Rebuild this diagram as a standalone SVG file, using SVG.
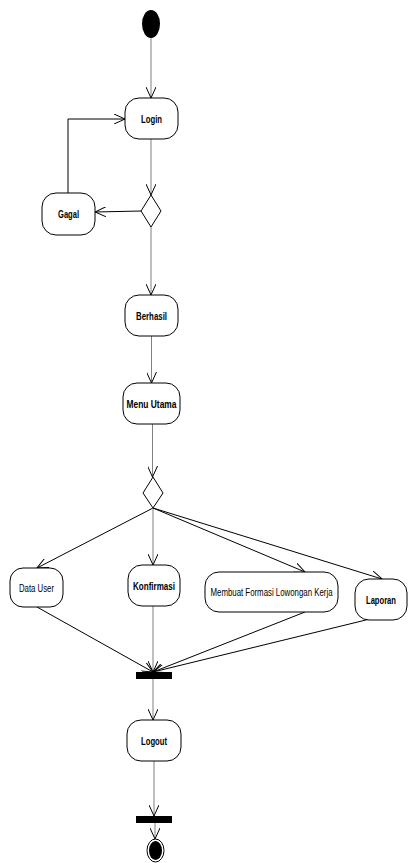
<svg xmlns="http://www.w3.org/2000/svg" width="408" height="863" viewBox="0 0 408 863">
<style>
.n{fill:#fff;stroke:#000;stroke-width:1}
.t{font-family:"Liberation Sans",Arial,sans-serif;font-size:11px;fill:#000;text-anchor:middle}
.b{font-weight:bold}
.g{stroke:#808080;stroke-width:1;fill:none}
.k{stroke:#000;stroke-width:1;fill:none}
</style>
<defs>
<marker id="ah" viewBox="0 0 12 10" refX="11" refY="5" markerWidth="12" markerHeight="10" markerUnits="userSpaceOnUse" orient="auto">
<path d="M0,0 L11,5 L0,10" fill="none" stroke="#000" stroke-width="1"/>
</marker>
</defs>
<g id="connectors">
<line class="g" x1="151" y1="38" x2="151" y2="98" marker-end="url(#ah)"/>
<line class="g" x1="151" y1="139" x2="151" y2="195" marker-end="url(#ah)"/>
<line class="k" x1="141" y1="211" x2="95" y2="212" marker-end="url(#ah)"/>
<polyline class="k" points="68,193 68,119 125,119" marker-end="url(#ah)"/>
<line class="g" x1="151" y1="227" x2="151" y2="295" marker-end="url(#ah)"/>
<line class="g" x1="151.5" y1="336" x2="151.5" y2="383" marker-end="url(#ah)"/>
<line class="g" x1="152.5" y1="424" x2="152.5" y2="477" marker-end="url(#ah)"/>
<line class="k" x1="153" y1="508" x2="37" y2="568" marker-end="url(#ah)"/>
<line class="g" x1="153" y1="508" x2="153" y2="565" marker-end="url(#ah)"/>
<line class="k" x1="153" y1="508" x2="305" y2="572" marker-end="url(#ah)"/>
<line class="k" x1="153" y1="508" x2="382" y2="579" marker-end="url(#ah)"/>
<line class="k" x1="37" y1="607" x2="153" y2="672" marker-end="url(#ah)"/>
<line class="g" x1="153" y1="606" x2="153" y2="672" marker-end="url(#ah)"/>
<line class="k" x1="305" y1="612" x2="153" y2="672" marker-end="url(#ah)"/>
<line class="k" x1="370" y1="619" x2="153" y2="672" marker-end="url(#ah)"/>
<line class="g" x1="153" y1="679" x2="153" y2="720" marker-end="url(#ah)"/>
<line class="g" x1="154" y1="761" x2="154" y2="816" marker-end="url(#ah)"/>
<line class="g" x1="155" y1="823" x2="155" y2="839" marker-end="url(#ah)"/>
</g>
<g id="start"><ellipse cx="151" cy="24" rx="9" ry="14" fill="#000"/></g>
<g id="login"><rect class="n" x="125" y="98" width="53" height="41" rx="14"/><text class="t b" x="151.5" y="122.5" textLength="21" lengthAdjust="spacingAndGlyphs">Login</text></g>
<g id="gagal"><rect class="n" x="42" y="193" width="53" height="42" rx="14"/><text class="t b" x="68.5" y="217.5" textLength="21" lengthAdjust="spacingAndGlyphs">Gagal</text></g>
<g id="decision1"><polygon class="n" points="151,195 161,211 151,227 141,211"/></g>
<g id="berhasil"><rect class="n" x="125" y="295" width="53" height="41" rx="14"/><text class="t b" x="151.5" y="319.5" textLength="31" lengthAdjust="spacingAndGlyphs">Berhasil</text></g>
<g id="menu"><rect class="n" x="123" y="383" width="57" height="41" rx="14"/><text class="t b" x="151.5" y="407.5" textLength="50" lengthAdjust="spacingAndGlyphs">Menu Utama</text></g>
<g id="decision2"><polygon class="n" points="153,477 163,493 153,508 143,493"/></g>
<g id="datauser"><rect class="n" x="10" y="568" width="53" height="39" rx="13"/><text class="t" x="36.5" y="591.5" textLength="35" lengthAdjust="spacingAndGlyphs">Data User</text></g>
<g id="konfirmasi"><rect class="n" x="128" y="565" width="52" height="41" rx="14"/><text class="t b" x="154" y="589.5" textLength="42" lengthAdjust="spacingAndGlyphs">Konfirmasi</text></g>
<g id="membuat"><rect class="n" x="205" y="572" width="133" height="40" rx="14"/><text class="t" x="271.5" y="596" textLength="122" lengthAdjust="spacingAndGlyphs">Membuat Formasi Lowongan Kerja</text></g>
<g id="laporan"><rect class="n" x="355" y="579" width="52" height="41" rx="14"/><text class="t b" x="381" y="603.5" textLength="30" lengthAdjust="spacingAndGlyphs">Laporan</text></g>
<g id="join"><rect x="136" y="672" width="36" height="7" fill="#000"/></g>
<g id="logout"><rect class="n" x="127" y="720" width="54" height="41" rx="14"/><text class="t b" x="154" y="744.5" textLength="26" lengthAdjust="spacingAndGlyphs">Logout</text></g>
<g id="join2"><rect x="136" y="816" width="36" height="7" fill="#000"/></g>
<g id="end"><ellipse cx="155.5" cy="850.5" rx="8.5" ry="11.5" fill="#fff" stroke="#000" stroke-width="1"/><ellipse cx="155.5" cy="850.5" rx="6.5" ry="9.5" fill="#000"/></g>
</svg>
